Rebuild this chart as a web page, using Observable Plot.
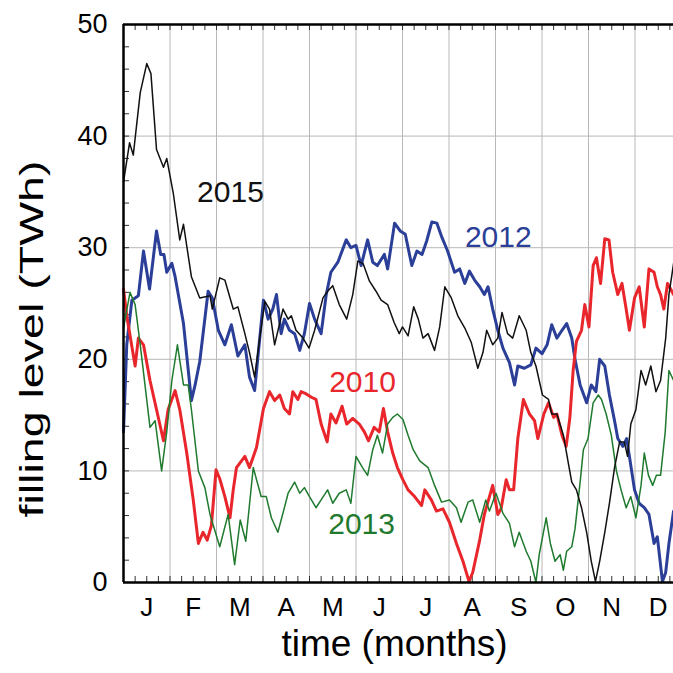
<!DOCTYPE html>
<html>
<head>
<meta charset="utf-8">
<script src="https://cdn.jsdelivr.net/npm/d3@7"></script>
<script src="https://cdn.jsdelivr.net/npm/@observablehq/plot@0.6"></script>
<style>
  html, body { margin: 0; padding: 0; background: #fff; }
  #chart { width: 673px; height: 673px; overflow: hidden; }
</style>
</head>
<body>
<div id="chart"></div>
<script>
// ---- data (x = time in months from 1 January, y = filling level in TWh) ----
const monthLabels = ["J","F","M","A","M","J","J","A","S","O","N","D"];
const yTicks = [0, 10, 20, 30, 40, 50];
const yearLabels = ["2015", "2012", "2010", "2013"];
const xTitle = "time (months)";
const yTitle = "filling level (TWh)";

const m2015 = [0,0.13,0.21,0.36,0.5,0.59,0.71,0.86,0.93,1.07,1.21,1.29,1.46,1.64,1.86,1.91,2.07,2.18,2.36,2.46,2.61,2.71,2.82,2.93,3.04,3.14,3.25,3.43,3.54,3.61,3.71,3.86,3.99,4.11,4.29,4.39,4.5,4.64,4.8,4.93,5.04,5.15,5.29,5.43,5.54,5.68,5.82,5.93,6.0,6.12,6.24,6.34,6.44,6.55,6.69,6.8,6.91,7.05,7.19,7.34,7.48,7.62,7.73,7.81,7.94,8.05,8.14,8.26,8.37,8.51,8.66,8.76,8.87,9.01,9.14,9.21,9.32,9.46,9.57,9.64,9.74,9.85,9.96,10.06,10.15,10.24,10.35,10.45,10.56,10.67,10.77,10.84,10.91,11.02,11.13,11.23,11.34,11.45,11.55,11.66,11.73,11.83];
const v2015 = [35.9,39.4,38.3,43.9,46.5,45.6,38.8,37.2,38.0,34.9,30.7,32.1,27.4,25.5,25.7,24.5,27.3,27.1,24.5,24.7,22.3,20.6,18.4,21.9,25.2,24.5,21.3,24.5,23.6,23.9,22.6,21.9,21.0,22.6,25.5,26.1,26.6,24.9,23.6,25.8,28.8,28.6,27.0,26.1,25.3,24.9,23.3,22.3,22.9,22.1,24.7,23.6,21.9,22.3,20.8,22.9,26.5,25.5,23.9,22.8,21.5,19.2,20.6,22.6,21.3,21.9,24.2,22.3,21.9,23.9,22.6,20.6,19.4,16.8,16.4,15.1,15.1,13.2,10.6,9.0,8.3,6.7,4.5,1.9,0.1,1.9,4.5,7.1,10.3,12.6,12.6,11.3,14.2,15.5,19.0,17.7,19.4,17.1,18.1,21.9,25.8,28.6];

const m2012 = [0,0.07,0.18,0.32,0.43,0.56,0.71,0.8,0.87,0.93,1.04,1.11,1.29,1.46,1.54,1.64,1.82,1.91,2.04,2.18,2.32,2.46,2.61,2.71,2.82,2.93,3.01,3.11,3.21,3.29,3.39,3.46,3.57,3.68,3.79,3.89,4.0,4.11,4.25,4.36,4.46,4.61,4.79,4.89,5.0,5.11,5.25,5.36,5.46,5.61,5.68,5.83,5.95,6.06,6.2,6.31,6.42,6.52,6.63,6.74,6.85,6.97,7.12,7.23,7.34,7.44,7.55,7.66,7.76,7.84,7.94,8.05,8.16,8.3,8.41,8.48,8.62,8.76,8.87,9.0,9.11,9.21,9.32,9.43,9.53,9.64,9.71,9.82,9.96,10.06,10.16,10.24,10.35,10.45,10.56,10.63,10.74,10.82,10.88,10.99,11.09,11.2,11.3,11.41,11.48,11.59,11.66,11.73,11.83];
const v2012 = [13.5,21.3,25.3,25.7,29.7,26.3,31.5,29.4,29.4,27.8,28.6,27.4,23.2,16.3,17.7,19.8,26.1,25.5,22.6,21.3,23.1,20.3,21.3,18.4,17.2,21.9,25.3,23.6,24.5,25.8,22.3,23.6,22.6,22.3,20.8,22.3,25.0,23.6,22.3,25.8,27.8,28.7,30.7,30.0,30.2,28.4,30.7,28.7,28.4,29.4,28.1,32.2,31.5,31.2,28.4,29.7,29.4,30.6,32.3,32.2,30.9,29.7,27.8,28.1,26.8,27.9,27.1,26.5,25.8,26.5,24.5,22.6,21.0,19.7,17.7,19.4,19.2,19.5,21.0,20.5,21.3,23.1,21.9,22.6,23.2,21.9,20.0,17.7,16.1,17.7,17.1,20.0,19.4,16.8,14.5,12.9,12.2,12.9,11.3,8.3,7.1,6.7,6.1,3.5,4.1,0.1,0.9,3.5,6.4];

const m2010 = [0,0.07,0.25,0.32,0.43,0.57,0.71,0.86,0.96,1.11,1.21,1.36,1.5,1.61,1.71,1.8,1.89,1.99,2.07,2.18,2.29,2.36,2.43,2.61,2.71,2.86,3.01,3.14,3.25,3.36,3.46,3.57,3.64,3.75,3.82,3.93,4.04,4.14,4.25,4.38,4.46,4.57,4.7,4.8,4.93,5.07,5.18,5.27,5.39,5.5,5.59,5.68,5.79,5.89,6.01,6.12,6.26,6.41,6.48,6.62,6.73,6.87,7.01,7.16,7.3,7.43,7.51,7.66,7.76,7.87,7.94,8.05,8.12,8.23,8.3,8.39,8.48,8.6,8.73,8.84,8.91,9.04,9.14,9.25,9.32,9.43,9.52,9.6,9.67,9.74,9.85,9.92,10.01,10.1,10.17,10.26,10.35,10.44,10.52,10.63,10.72,10.81,10.88,10.99,11.09,11.2,11.3,11.41,11.48,11.55,11.62,11.7,11.83];
const v2010 = [26.3,23.9,19.4,21.9,21.3,18.1,15.5,12.7,15.5,17.2,15.5,11.6,7.4,3.5,4.5,3.8,5.1,10.1,9.3,7.7,5.8,8.3,10.3,11.3,10.3,12.1,15.6,17.1,16.3,16.8,15.6,15.1,17.1,16.4,17.1,16.9,16.6,16.4,14.2,12.6,15.1,14.3,15.8,14.2,14.7,14.2,13.5,12.7,13.9,13.5,15.6,13.5,11.6,10.3,9.2,8.3,7.7,6.9,8.3,7.4,6.4,6.6,5.4,3.5,1.9,0.1,0.9,3.8,6.1,7.7,8.7,6.1,6.6,9.2,8.3,8.3,12.9,16.4,15.1,14.5,12.9,15.1,16.1,14.8,15.1,13.2,12.2,14.8,19.0,21.6,22.6,24.9,22.9,28.4,29.1,26.8,30.8,30.7,27.8,25.8,26.8,24.5,22.6,25.5,26.5,22.9,28.1,27.8,26.5,25.8,24.5,26.8,25.8];

const m2013 = [0,0.14,0.25,0.36,0.57,0.68,0.82,0.93,1.04,1.16,1.29,1.39,1.46,1.61,1.75,1.86,2.07,2.25,2.39,2.51,2.63,2.79,2.96,3.07,3.18,3.32,3.46,3.54,3.68,3.79,3.89,4.0,4.14,4.25,4.39,4.5,4.64,4.79,4.89,5.0,5.14,5.25,5.36,5.46,5.57,5.68,5.79,5.89,6.01,6.12,6.23,6.37,6.55,6.69,6.84,7.01,7.16,7.26,7.41,7.51,7.66,7.79,7.87,8.01,8.16,8.3,8.41,8.51,8.66,8.76,8.87,8.94,9.09,9.18,9.28,9.39,9.46,9.53,9.64,9.71,9.82,9.89,9.99,10.1,10.21,10.28,10.38,10.49,10.6,10.7,10.81,10.91,11.02,11.13,11.2,11.29,11.38,11.46,11.55,11.65,11.73,11.83];
const v2013 = [22.8,26.0,24.9,21.3,13.9,14.5,10.0,13.5,18.1,21.3,17.7,17.7,15.5,10.0,8.5,6.1,3.2,6.1,1.6,5.6,3.7,10.3,7.7,7.7,5.8,4.5,6.7,8.0,9.0,8.0,8.5,7.7,6.7,7.4,8.3,7.1,8.0,8.3,7.1,11.3,10.3,9.6,11.9,13.2,11.6,14.2,14.8,15.1,14.6,13.2,11.9,10.9,10.3,8.7,7.2,7.4,6.7,5.4,7.2,7.4,5.4,7.4,6.4,8.0,6.2,5.3,3.2,4.5,2.8,1.9,0.0,2.5,5.8,3.5,1.9,2.5,1.1,2.8,3.2,4.8,9.0,11.9,12.9,16.1,16.8,16.4,15.1,13.2,10.0,8.3,6.7,7.7,5.8,8.7,11.6,9.6,8.7,9.6,9.6,13.5,19.0,18.1];

// label anchor positions (months, TWh)
const labelM = [2.3, 8.06, 5.14, 5.12];
const labelV = [35.0, 30.9, 17.9, 5.2];
const colors = {"2015": "#111111", "2012": "#2b3f98", "2010": "#e8262b", "2013": "#1f7a2e"};

// ---- build tables ----
const toRows = (ms, vs) => ms.map((m, i) => ({m, v: vs[i]}));
const s2015 = toRows(m2015, v2015);
const s2012 = toRows(m2012, v2012);
const s2010 = toRows(m2010, v2010);
const s2013 = toRows(m2013, v2013);
const labels = yearLabels.map((t, i) => ({t, m: labelM[i], v: labelV[i]}));
const monthMid = monthLabels.map((_, i) => i + 0.5);
const monthEdges = d3.range(1, 12);
const quarterTicks = d3.range(1, 48).map(k => k / 4);
const yMinor = d3.range(2, 50, 2);

const font = "'Liberation Sans', Arial, Helvetica, sans-serif";

const chart = Plot.plot({
  width: 673,
  height: 673,
  marginLeft: 123,
  marginTop: 24,
  marginBottom: 91,
  marginRight: 0,
  x: {domain: [0, 12], range: [123, 681]},
  y: {domain: [0, 50], range: [582, 24]},
  style: {fontFamily: font, background: "#fff", color: "#000", overflow: "hidden"},
  marks: [
    Plot.gridX(monthEdges, {stroke: "#b8b8b8", strokeOpacity: 1, strokeWidth: 1}),
    Plot.gridY([10, 20, 30, 40], {stroke: "#b8b8b8", strokeOpacity: 1, strokeWidth: 1}),
    // minor ticks (inside the frame)
    Plot.tickX(quarterTicks, {x: d => d, insetTop: 552, stroke: "#333", strokeWidth: 1}),
    Plot.tickX(quarterTicks, {x: d => d, insetBottom: 552, stroke: "#333", strokeWidth: 1}),
    Plot.tickY(yMinor, {y: d => d, insetRight: 544, stroke: "#333", strokeWidth: 1}),
    // series
    Plot.line(s2012, {x: "m", y: "v", stroke: colors["2012"], strokeWidth: 3, strokeLinejoin: "round"}),
    Plot.line(s2010, {x: "m", y: "v", stroke: colors["2010"], strokeWidth: 3, strokeLinejoin: "round"}),
    Plot.line(s2013, {x: "m", y: "v", stroke: colors["2013"], strokeWidth: 1.5, strokeLinejoin: "round"}),
    Plot.line(s2015, {x: "m", y: "v", stroke: colors["2015"], strokeWidth: 1.5, strokeLinejoin: "round"}),
    // frame
    Plot.ruleY([0, 50], {stroke: "#000", strokeWidth: 2.5}),
    Plot.ruleX([0, 12], {stroke: "#000", strokeWidth: 2.5}),
    // axes
    Plot.axisY(yTicks, {tickSize: 0, tickPadding: 16, fontSize: 27, label: null, tickFormat: d => String(d)}),
    Plot.axisX(monthMid, {tickSize: 0, tickPadding: 15, fontSize: 26, label: null, tickFormat: d => monthLabels[Math.floor(d)]}),
    // year labels
    Plot.text(labels, {x: "m", y: "v", text: "t", fill: d => colors[d.t], fontSize: 30}),
    // axis titles
    Plot.text([xTitle], {frameAnchor: "bottom", dx: -4, dy: 73, fontSize: 37, fill: "#000"}),
    Plot.text([yTitle], {frameAnchor: "left", dx: -91, dy: 214, rotate: -90, textAnchor: "start", fontSize: 34, fill: "#000"})
  ]
});

// stretch the y title to the length it has in the picture
for (const t of chart.querySelectorAll("text")) {
  if (t.textContent === yTitle) {
    t.setAttribute("textLength", "357");
    t.setAttribute("lengthAdjust", "spacingAndGlyphs");
  }
}
document.getElementById("chart").appendChild(chart);
</script>
</body>
</html>
